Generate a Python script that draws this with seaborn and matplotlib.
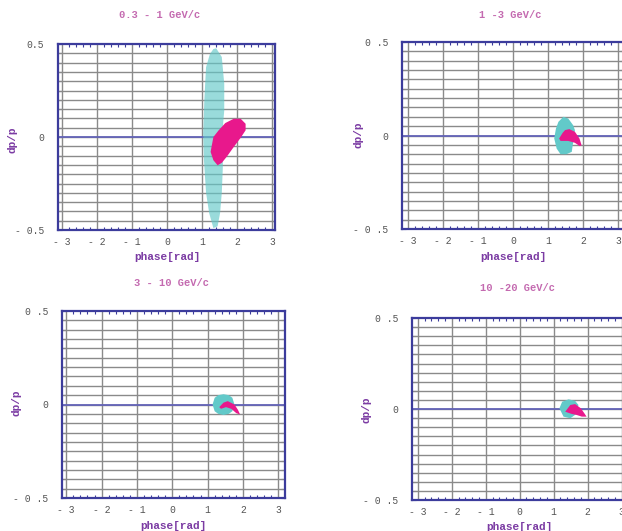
import matplotlib
matplotlib.use("Agg")
import matplotlib.pyplot as plt
import seaborn as sns
import numpy as np

# panel titles (momentum bins)
titles = ["0.3 - 1 GeV/c", "1 -3 GeV/c", "3 - 10 GeV/c", "10 -20 GeV/c"]

# outlines of the point clouds: (phase, dp/p)
# 0.3 - 1 GeV/c
cyan1_x = [1.40, 1.56, 1.63, 1.63, 1.59, 1.59, 1.56, 1.51, 1.44, 1.32, 1.20, 1.11, 1.05, 1.03, 1.06, 1.11, 1.22, 1.32]
cyan1_y = [0.477, 0.43, 0.286, 0.143, 0.054, -0.16, -0.30, -0.41, -0.48, -0.49, -0.41, -0.30, -0.125, 0.018, 0.196, 0.375, 0.446, 0.473]
pink1_x = [1.32, 1.47, 1.66, 1.90, 2.10, 2.24, 2.24, 2.10, 1.90, 1.71, 1.56, 1.44, 1.32, 1.24]
pink1_y = [0.0, 0.036, 0.075, 0.098, 0.098, 0.071, 0.036, -0.004, -0.054, -0.104, -0.139, -0.152, -0.125, -0.080]
# 1 - 3 GeV/c
cyan2_x = [1.43, 1.57, 1.71, 1.76, 1.67, 1.52, 1.35, 1.24, 1.17, 1.22, 1.29]
cyan2_y = [0.10, 0.091, 0.055, 0.029, -0.0875, -0.10, -0.10, -0.07, -0.016, 0.0375, 0.073]
pink2_x = [1.60, 1.76, 1.89, 1.95, 1.90, 1.76, 1.57, 1.35, 1.31, 1.41, 1.48]
pink2_y = [0.034, 0.020, -0.016, -0.052, -0.057, -0.039, -0.029, -0.029, -0.016, 0.014, 0.029]
# 3 - 10 GeV/c
cyan3_x = [1.14, 1.20, 1.30, 1.45, 1.60, 1.70, 1.76, 1.70, 1.60, 1.45, 1.30, 1.20]
cyan3_y = [0.0, 0.036, 0.050, 0.055, 0.050, 0.036, 0.0, -0.036, -0.050, -0.056, -0.050, -0.036]
pink3_x = [1.33, 1.45, 1.57, 1.76, 1.86, 1.92, 1.81, 1.67, 1.52, 1.38]
pink3_y = [-0.014, 0.010, 0.018, 0.0, -0.029, -0.054, -0.046, -0.023, -0.014, -0.023]
# 10 - 20 GeV/c
cyan4_x = [1.17, 1.25, 1.44, 1.63, 1.73, 1.65, 1.49, 1.29]
cyan4_y = [0.004, 0.040, 0.053, 0.045, 0.022, -0.030, -0.051, -0.042]
pink4_x = [1.34, 1.49, 1.63, 1.80, 1.89, 1.97, 1.83, 1.68, 1.53]
pink4_y = [-0.015, 0.022, 0.027, 0.004, -0.020, -0.042, -0.042, -0.033, -0.027]

clouds = [
    (cyan1_x, cyan1_y, pink1_x, pink1_y),
    (cyan2_x, cyan2_y, pink2_x, pink2_y),
    (cyan3_x, cyan3_y, pink3_x, pink3_y),
    (cyan4_x, cyan4_y, pink4_x, pink4_y),
]

x_tick_vals = [-3, -2, -1, 0, 1, 2, 3]
x_tick_text = ["- 3", "- 2", "- 1", "0", "1", "2", "3"]
y_text_first = ["- 0.5", "0", "0.5"]
y_text_other = ["- 0 .5", "0", "0 .5"]

sns.set_style("white")
plt.rcParams["font.family"] = ["Liberation Mono", "DejaVu Sans Mono"]

W, H = 622, 531
fig = plt.figure(figsize=(W / 100, H / 100), dpi=100)

# pixel boxes: left, right, top, bottom
boxes = [(58, 275, 44, 230), (402, 624, 42, 229), (62, 285, 311, 498), (412, 625, 318, 500)]
xlims = [(-3.12, 3.08), (-3.17, 3.16), (-3.12, 3.19), (-3.17, 3.1)]
title_pos = [(160, 15), (510, 15), (172, 283), (518, 288)]
xlab_pos = [(167, 257), (513, 257), (173, 526), (519, 527)]
ylab_pos = [(12, 140), (358, 135), (16, 403), (367, 410)]

navy = "#3c3c9c"
cyan = "#62c9c9"
pink = "#e8188c"
title_col = "#c46ab0"
label_col = "#7b3ba3"

for i in range(4):
    l, r, t, b = boxes[i]
    ax = fig.add_axes([l / W, 1 - b / H, (r - l) / W, (b - t) / H])
    ax.set_xlim(*xlims[i])
    ax.set_ylim(-0.5, 0.5)

    # grid
    for xv in x_tick_vals:
        ax.axvline(xv, color="#8a8a8a", lw=1.0, zorder=1)
    for yv in np.round(np.arange(-0.45, 0.46, 0.05), 2):
        ax.axhline(yv, color="#8a8a8a", lw=1.0, zorder=1)
    ax.axhline(0, color="#6464b8", lw=1.3, zorder=2)

    cx, cy, px, py = clouds[i]
    if i == 0:
        ax.fill(cx, cy, color=cyan, alpha=0.65, lw=0, zorder=3)
    else:
        ax.fill(cx, cy, color=cyan, lw=0, zorder=3)
    ax.fill(px, py, color=pink, lw=0, zorder=4)

    # ticks
    ax.set_xticks(x_tick_vals)
    ax.set_xticklabels(x_tick_text, fontsize=7, color="#555555")
    ax.set_xticks(np.round(np.arange(-3.0, 3.01, 0.2), 1), minor=True)
    yt = np.round(np.arange(-0.5, 0.501, 0.05), 2)
    ax.set_yticks(yt)
    ytxt = y_text_first if i == 0 else y_text_other
    ax.set_yticklabels([ytxt[0] if v == -0.5 else ytxt[1] if v == 0 else ytxt[2] if v == 0.5 else "" for v in yt],
                       fontsize=7, color="#555555")
    ax.tick_params(axis="both", which="both", direction="in", color=navy,
                   top=True, right=True, bottom=True, left=True, width=0.8)
    ax.tick_params(axis="x", which="major", length=0, pad=5)
    ax.tick_params(axis="x", which="minor", length=2.5)
    ax.tick_params(axis="y", which="major", length=3, pad=10)
    for s in ax.spines.values():
        s.set_color(navy)
        s.set_linewidth(1.6)
        s.set_visible(True)

    fig.text(title_pos[i][0] / W, 1 - title_pos[i][1] / H, titles[i], ha="center", va="center",
             fontsize=7.5, fontweight="bold", color=title_col)
    fig.text(xlab_pos[i][0] / W, 1 - xlab_pos[i][1] / H, "phase[rad]", ha="center", va="center",
             fontsize=8, fontweight="bold", color=label_col)
    fig.text(ylab_pos[i][0] / W, 1 - ylab_pos[i][1] / H, "dp/p", ha="center", va="center",
             fontsize=8, fontweight="bold", color=label_col, rotation=90)

fig.savefig("out.png", dpi=100)
